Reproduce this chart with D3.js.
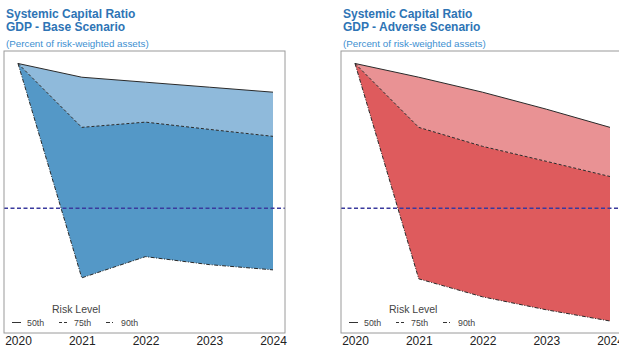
<!DOCTYPE html>
<html>
<head>
<meta charset="utf-8">
<script src="https://cdn.jsdelivr.net/npm/d3@7"></script>
<style>
body { margin: 0; background: #fff; }
text { font-family: Arial, "Liberation Sans", sans-serif; }
</style>
</head>
<body>
<svg id="canvas"></svg>
<script>
let width = 619,
height = 349

// values (percent of RWA)
const years = [2020, 2021, 2022, 2023, 2024]
const baseP50 = [15.8, 15.25, 15.05, 14.85, 14.65]
const baseP75 = [15.8, 13.24, 13.45, 13.16, 12.88]
const baseP90 = [15.8, 7.21, 8.06, 7.74, 7.53]
const advP50 = [15.8, 15.25, 14.65, 13.97, 13.24]
const advP75 = [15.8, 13.24, 12.48, 11.88, 11.27]
const advP90 = [15.8, 7.17, 6.45, 5.93, 5.48]
const hurdle = 10
const riskLevels = ['50th', '75th', '90th']

let canvas = d3.select('#canvas')
.attr('width', width)
.attr('height', height)

let panels = [
    {dx: 0, title: 'GDP - Base Scenario', p50: baseP50, p75: baseP75, p90: baseP90, light: '#8fbadb', dark: '#5498c7'},
    {dx: 337, title: 'GDP - Adverse Scenario', p50: advP50, p75: advP75, p90: advP90, light: '#e99294', dark: '#de5b5d'}
]

let box = {left: 4, right: 285, top: 51, bottom: 333}

let x = d3.scaleLinear().domain([2020, 2024]).range([18, 273])
let y = d3.scaleLinear().domain([5, 16.3]).range([box.bottom, box.top])

let dashes = {'50th': null, '75th': '3,2', '90th': '4,1.5,1,1.5'}

let drawPanel = (p) => {
    let g = canvas.append('g').attr('transform', `translate(${p.dx},0)`)

    g.append('text').attr('x', 6).attr('y', 18)
    .attr('font-size', 12).attr('font-weight', 'bold').attr('fill', '#2e74b5')
    .text('Systemic Capital Ratio')
    g.append('text').attr('x', 6).attr('y', 31)
    .attr('font-size', 12).attr('font-weight', 'bold').attr('fill', '#2e74b5')
    .text(p.title)
    g.append('text').attr('x', 6).attr('y', 47)
    .attr('font-size', 9.8).attr('fill', '#3d8fd1')
    .text('(Percent of risk-weighted assets)')

    let rows = years.map((yr, i) => ({yr, p50: p.p50[i], p75: p.p75[i], p90: p.p90[i]}))

    let upper = d3.area().x(d => x(d.yr)).y0(d => y(d.p75)).y1(d => y(d.p50))
    let lower = d3.area().x(d => x(d.yr)).y0(d => y(d.p90)).y1(d => y(d.p75))

    g.append('path').attr('d', upper(rows)).attr('fill', p.light)
    g.append('path').attr('d', lower(rows)).attr('fill', p.dark)

    riskLevels.forEach((lvl) => {
        let key = 'p' + lvl.replace('th', '')
        let line = d3.line().x(d => x(d.yr)).y(d => y(d[key]))
        g.append('path').attr('d', line(rows))
        .attr('fill', 'none').attr('stroke', '#2a2a2a').attr('stroke-width', 1)
        .attr('stroke-dasharray', dashes[lvl])
    })

    g.append('line')
    .attr('x1', box.left).attr('x2', box.right)
    .attr('y1', y(hurdle)).attr('y2', y(hurdle))
    .attr('stroke', '#3a3a9e').attr('stroke-width', 1.4)
    .attr('stroke-dasharray', '4,2.5')

    g.append('rect')
    .attr('x', box.left).attr('y', box.top)
    .attr('width', box.right - box.left).attr('height', box.bottom - box.top)
    .attr('fill', 'none').attr('stroke', '#9a9a9a').attr('stroke-width', 1)

    let axis = d3.axisBottom(x).tickValues(years).tickFormat(d3.format('d')).tickSize(0).tickPadding(3)
    let ax = g.append('g').attr('transform', `translate(0,${box.bottom})`).call(axis)
    ax.select('.domain').remove()
    ax.selectAll('text').attr('font-size', 12).attr('fill', '#222')
    .attr('font-family', 'Arial, "Liberation Sans", sans-serif')

    // legend
    g.append('text').attr('x', 52).attr('y', 313)
    .attr('font-size', 10.5).attr('fill', '#444').text('Risk Level')
    let lx = [12, 59, 106]
    riskLevels.forEach((lvl, i) => {
        g.append('line').attr('x1', lx[i]).attr('x2', lx[i] + 9)
        .attr('y1', 322.5).attr('y2', 322.5)
        .attr('stroke', '#333').attr('stroke-width', 1)
        .attr('stroke-dasharray', lvl === '50th' ? null : (lvl === '75th' ? '3,2' : '4,2,1,2'))
        g.append('text').attr('x', lx[i] + 15).attr('y', 325.5)
        .attr('font-size', 8.8).attr('fill', '#444').text(lvl)
    })
}

panels.forEach(drawPanel)
</script>
</body>
</html>
